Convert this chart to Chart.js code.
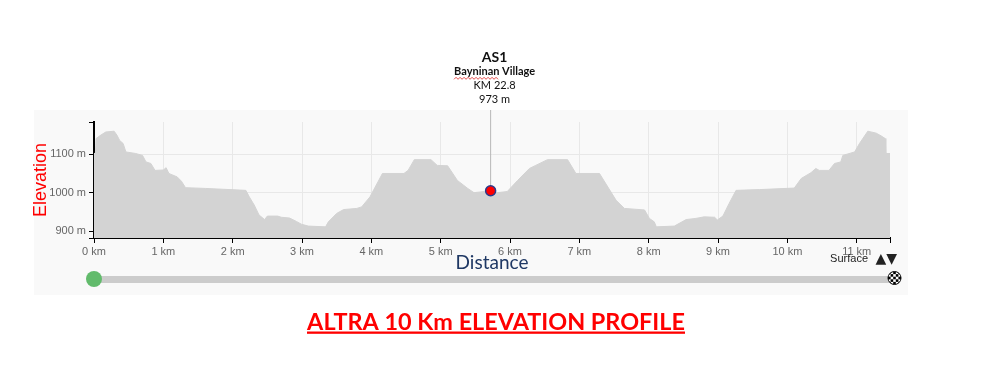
<!DOCTYPE html>
<html>
<head>
<meta charset="utf-8">
<script src="https://cdn.jsdelivr.net/npm/chart.js@4.4.1/dist/chart.umd.min.js"></script>
<style>
body{margin:0;background:#fff}
#wrap{position:relative;width:982px;height:366px}
</style>
</head>
<body>
<div id="wrap"><canvas id="elevChart"></canvas></div>
<script>
let distKm=[0,0.02,0.03,0.10,0.17,0.29,0.33,0.37,0.42,0.46,0.60,0.70,0.75,0.82,0.88,1.00,1.04,1.08,1.20,1.26,1.32,1.61,2.19,2.24,2.31,2.38,2.46,2.50,2.65,2.70,2.82,2.92,2.99,3.09,3.34,3.38,3.50,3.60,3.79,3.86,3.98,4.16,4.47,4.53,4.62,4.86,4.95,5.10,5.24,5.39,5.48,5.63,5.72,5.82,5.96,6.11,6.28,6.37,6.54,6.83,6.95,7.29,7.53,7.65,7.94,8.01,8.08,8.11,8.37,8.54,8.68,8.80,8.95,8.99,9.07,9.16,9.26,9.60,10.10,10.20,10.34,10.41,10.46,10.60,10.68,10.77,10.80,10.97,11.04,11.16,11.28,11.35,11.41,11.42,11.48]
let elevM=[1102,1102,1141,1150,1158,1160,1150,1136,1128,1106,1102,1097,1080,1076,1058,1059,1065,1050,1041,1030,1013,1011,1006,989,968,942,930,939,939,936,934,925,918,913,911,924,946,956,959,963,989,1050,1050,1058,1086,1086,1071,1070,1032,1011,1000,1003,1005,1000,1003,1032,1063,1071,1086,1086,1050,1050,980,959,955,933,924,911,913,930,933,937,936,929,939,972,1006,1008,1012,1037,1052,1063,1058,1058,1076,1080,1097,1106,1128,1160,1155,1148,1141,1102,1102]
let xTicks=[0,1,2,3,4,5,6,7,8,9,10,11,11.48]
let yTicks=[882,900,1000,1100,1184]
let stationKm=5.72
let stationElev=1005
let stationText=["AS1","Bayninan Village","KM 22.8","973 m"]
let chartTitle="ALTRA 10 Km ELEVATION PROFILE"

let profile=distKm.map((d,i)=>({x:d,y:elevM[i]}))

let extras={
id:"extras",
beforeDraw(chart){
let c=chart.ctx
c.save()
c.fillStyle="#f9f9f9"
c.fillRect(34,110,874,185)
c.restore()
},
beforeDatasetsDraw(chart){
let c=chart.ctx
let x=chart.scales.x.getPixelForValue(stationKm)
let y=chart.scales.y.getPixelForValue(stationElev)
c.save()
c.strokeStyle="#b8b8b8"
c.lineWidth=1
c.beginPath()
c.moveTo(x,110)
c.lineTo(x,y)
c.stroke()
c.restore()
},
afterDraw(chart){
let c=chart.ctx
let x=chart.scales.x.getPixelForValue(stationKm)+4
c.save()
c.textAlign="center"
c.textBaseline="middle"
c.fillStyle="#111"
c.font="bold 14px Lato"
c.fillText(stationText[0],x,57)
c.font="bold 11px Lato"
c.fillText(stationText[1],x,71.5)
let w=c.measureText(stationText[1]).width
c.font="11px Lato"
c.fillText(stationText[2],x,85.5)
c.fillText(stationText[3],x,99)

// spell-check squiggle under first word
let sx=x-w/2
c.strokeStyle="#e02020"
c.lineWidth=0.8
c.beginPath()
for(let i=0;i<=22;i++){
let px=sx+i*2
let py=i%2?77.3:79.3
if(i==0)c.moveTo(px,py)
else c.lineTo(px,py)
}
c.stroke()

// surface label
c.textAlign="right"
c.fillStyle="#222"
c.font="11px Arial"
c.fillText("Surface",868,259)
c.font="14px DejaVu Sans"
c.fillText("\u25B2\u25BC",897,259)

// slider
c.fillStyle="#cccccc"
c.fillRect(94,276,796,7)
c.fillStyle="#62bb6c"
c.beginPath()
c.arc(94,279,8,0,Math.PI*2)
c.fill()

let fx=894.5,fy=278,fr=6.5
c.save()
c.beginPath()
c.arc(fx,fy,fr,0,Math.PI*2)
c.clip()
c.fillStyle="#fff"
c.fillRect(fx-fr,fy-fr,fr*2,fr*2)
c.fillStyle="#000"
let sq=2.6
for(let i=0;i<5;i++){
for(let j=0;j<5;j++){
if((i+j)%2==0)c.fillRect(fx-fr+i*sq,fy-fr+j*sq,sq,sq)
}
}
c.restore()
c.strokeStyle="#000"
c.lineWidth=1
c.beginPath()
c.arc(fx,fy,fr,0,Math.PI*2)
c.stroke()

// title
c.font="bold 24px Lato"
let tw=c.measureText(chartTitle).width
let size=24*378/tw
c.font="bold "+size.toFixed(2)+"px Lato"
c.textAlign="center"
c.textBaseline="alphabetic"
c.fillStyle="#ff0000"
c.fillText(chartTitle,496,330)
c.fillRect(307,331.5,378,2.3)
c.restore()
}
}

new Chart(document.getElementById("elevChart"),{
type:"line",
data:{
datasets:[
{
label:stationText[0],
data:[{x:stationKm,y:stationElev}],
order:0,
showLine:false,
pointRadius:5,
pointBackgroundColor:"#ff0000",
pointBorderColor:"#2b3a8c",
pointBorderWidth:1.5
},
{
label:"Elevation",
data:profile,
order:1,
fill:"start",
backgroundColor:"#d3d3d3",
borderColor:"#d3d3d3",
borderWidth:1,
pointRadius:0,
tension:0
}
]
},
options:{
responsive:true,
maintainAspectRatio:false,
animation:false,
events:[],
layout:{padding:{top:122,right:92,bottom:92,left:30}},
plugins:{legend:{display:false},tooltip:{enabled:false}},
scales:{
x:{
type:"linear",
min:0,
max:11.48,
afterBuildTicks:s=>{s.ticks=xTicks.map(v=>({value:v}))},
afterFit:s=>{s.height=36},
ticks:{
autoSkip:false,
maxRotation:0,
padding:2,
color:"#666",
font:{family:"Arial",size:11},
callback:v=>Number.isInteger(v)?v+" km":""
},
grid:{
color:ctx=>ctx.tick&&Number.isInteger(ctx.tick.value)?"#e8e8e8":"rgba(0,0,0,0)",
tickColor:"#000",
tickLength:5,
tickWidth:1
},
border:{color:"#000",width:2},
title:{display:true,text:"Distance",color:"#1f3864",font:{family:"Lato",size:19},padding:{top:0,bottom:0}}
},
y:{
type:"linear",
min:882,
max:1184,
afterBuildTicks:s=>{s.ticks=yTicks.map(v=>({value:v}))},
afterFit:s=>{s.width=64},
ticks:{
padding:3,
color:"#666",
font:{family:"Arial",size:11},
callback:v=>v%100==0?v+" m":""
},
grid:{
color:ctx=>ctx.tick&&ctx.tick.value%100==0?"#e8e8e8":"rgba(0,0,0,0)",
tickColor:"#000",
tickLength:5,
tickWidth:1
},
border:{color:"#000",width:2},
title:{display:true,text:"Elevation",color:"#ff0000",font:{family:"Arial",size:18},padding:{top:0,bottom:0}}
}
}
},
plugins:[extras]
})
</script>
</body>
</html>
